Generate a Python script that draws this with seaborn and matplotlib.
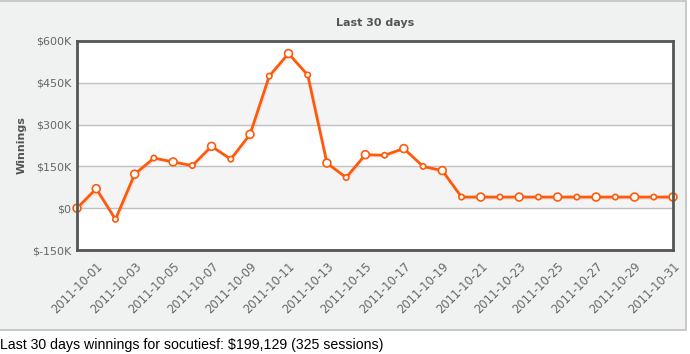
import pandas as pd
import numpy as np
import seaborn as sns
import matplotlib.pyplot as plt
import matplotlib.patheffects as pe
from matplotlib.patches import Rectangle

# data (thousands of dollars)
dates = pd.date_range("2011-09-30", "2011-10-31", freq="D")
winnings = [0, 70, -40, 122, 180, 166, 153, 222, 176, 265,
            474, 555, 478, 162, 110, 192, 190, 214, 150, 135,
            40, 40, 40, 40, 40, 40, 40, 40, 40, 40,
            40, 40]
y_ticks = [-150, 0, 150, 300, 450, 600]
title = "Last 30 days"
footer = "Last 30 days winnings for socutiesf: $199,129 (325 sessions)"

df = pd.DataFrame({"date": dates, "winnings": winnings})

sns.set_style("white")
plt.rcParams["font.family"] = ["DejaVu Sans"]

fig = plt.figure(figsize=(6.9, 3.54), dpi=100)
fig.patch.set_facecolor("white")

# grey panel behind the chart
panel = Rectangle((-0.01, 24 / 354), 686 / 690 + 0.01, 330 / 354 - 0.0015,
                  transform=fig.transFigure, facecolor="#f0f1f1",
                  edgecolor="#c0c0c0", lw=1.2, zorder=-5)
fig.patches.append(panel)

ax = fig.add_axes([77 / 690, 104 / 354, 596 / 690, 209 / 354])
ax.set_facecolor("white")

# alternate bands
for lo, hi in [(300, 450), (0, 150)]:
    ax.axhspan(lo, hi, color="#f4f4f4", zorder=0, lw=0)
for v in y_ticks[1:-1]:
    ax.axhline(v, color="#c0c0c0", lw=1, zorder=1)

orange = "#ff5a0a"
sns.lineplot(data=df, x="date", y="winnings", ax=ax, color=orange, lw=2.0,
             zorder=3,
             path_effects=[pe.SimpleLineShadow(offset=(1, -1), alpha=0.06, shadow_color="black"),
                           pe.Normal()])

# markers: bigger on odd positions and the first point
big = [i == 0 or i % 2 == 1 for i in range(len(df))]
sizes = np.where(big, 32, 15)
ax.scatter(df["date"], df["winnings"], s=sizes, facecolor="white",
           edgecolor=orange, linewidth=1.2, zorder=4, clip_on=False)

ax.set_xlim(dates[0], dates[-1])
ax.set_ylim(-150, 600)
ax.set_yticks(y_ticks)
ax.set_yticklabels([f"${v}K" if v != 0 else "$0" for v in y_ticks],
                   color="#666666", fontsize=8)
tick_dates = dates[1::2]
ax.set_xticks(tick_dates)
ax.set_xticklabels([d.strftime("%Y-%m-%d") for d in tick_dates],
                   rotation=45, ha="right", va="top", rotation_mode="anchor",
                   color="#666666", fontsize=8.3)
ax.tick_params(axis="both", length=0, pad=4)
ax.tick_params(axis="x", pad=7)

for s in ax.spines.values():
    s.set_color("#555555")
    s.set_linewidth(2)
    s.set_zorder(5)

ax.set_xlabel("")
ax.set_ylabel("Winnings", fontsize=8, fontweight="bold", color="#555555")
ax.yaxis.set_label_coords(-50 / 596, 0.5)
ax.set_title(title, fontsize=8, fontweight="bold", color="#555555", pad=11)

fig.text(0.0, 9 / 354, footer, family="Liberation Sans", fontsize=10.2,
         color="black", va="center", ha="left")

fig.savefig("out.png", dpi=100)
